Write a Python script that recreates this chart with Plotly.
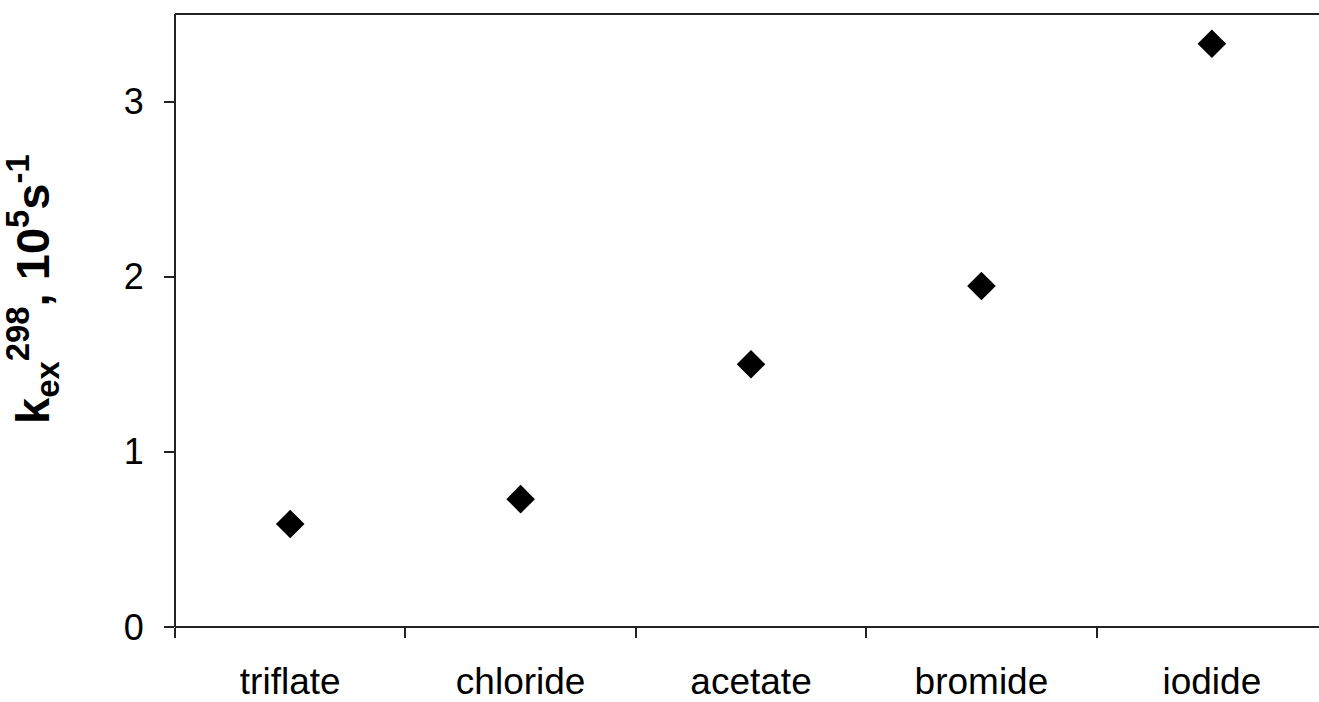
import plotly.graph_objects as go

categories = ["triflate", "chloride", "acetate", "bromide", "iodide"]
kex_values = [0.588, 0.73, 1.50, 1.947, 3.33]
y_ticks = [0, 1, 2, 3]

fig = go.Figure()
fig.add_trace(go.Scatter(
    x=categories, y=kex_values, mode="markers",
    marker=dict(symbol="diamond", size=22, color="black"),
    showlegend=False,
))

W, H = 1319, 702
ml, mt, mb, mr = 175, 14, 75, 0
fig.update_layout(
    template="none",
    width=W, height=H,
    margin=dict(l=ml, r=mr, t=mt, b=mb, pad=0),
    plot_bgcolor="white", paper_bgcolor="white",
    font=dict(family="Liberation Sans, Arial, sans-serif", color="black"),
)
# category width matches the reference; the frame continues past the right edge
fig.update_xaxes(
    type="category", range=[-0.5, 4.465], automargin=False,
    showline=False, mirror=False,
    ticks="outside", tickson="boundaries", ticklen=10, tickwidth=2, tickcolor="#222",
    showgrid=False, zeroline=False,
    tickfont=dict(size=37, color="black"), ticklabelstandoff=29,
)
fig.update_yaxes(
    range=[0, 3.5], tickvals=y_ticks, ticktext=[str(v) for v in y_ticks],
    automargin=False, mirror=False, showline=False,
    ticks="outside", ticklen=10, tickwidth=2, tickcolor="#222",
    showgrid=False, zeroline=False,
    tickfont=dict(size=36, color="black"), ticklabelstandoff=13,
)
# hide any edge line at the right side of the plot (the reference frame is open there)
fig.add_shape(type="rect", xref="paper", yref="paper", x0=0.993, x1=1.0, y0=-0.012, y1=1.012,
              fillcolor="white", line=dict(width=0), layer="above")
# frame: left, bottom and top lines
frame = dict(color="#222", width=2)
fig.add_shape(type="line", xref="paper", yref="paper", x0=0, x1=1, y0=1, y1=1, line=frame)
fig.add_shape(type="line", xref="paper", yref="paper", x0=0, x1=1, y0=0, y1=0, line=frame)
fig.add_shape(type="line", xref="paper", yref="paper", x0=0, x1=0, y0=0, y1=1, line=frame)

plot_w = W - ml - mr
plot_h = H - mt - mb
fig.add_annotation(
    text="k<sub>ex</sub><sup>298</sup>, 10<sup>5</sup>s<sup>-1</sup>",
    xref="paper", yref="paper",
    x=(32 - ml) / plot_w, y=(H - mb - 289) / plot_h,
    xanchor="center", yanchor="middle", textangle=-90, showarrow=False,
    font=dict(size=47, color="black", weight="bold",
              family="Liberation Sans, Arial, sans-serif"),
)

fig.write_html("out.html")
